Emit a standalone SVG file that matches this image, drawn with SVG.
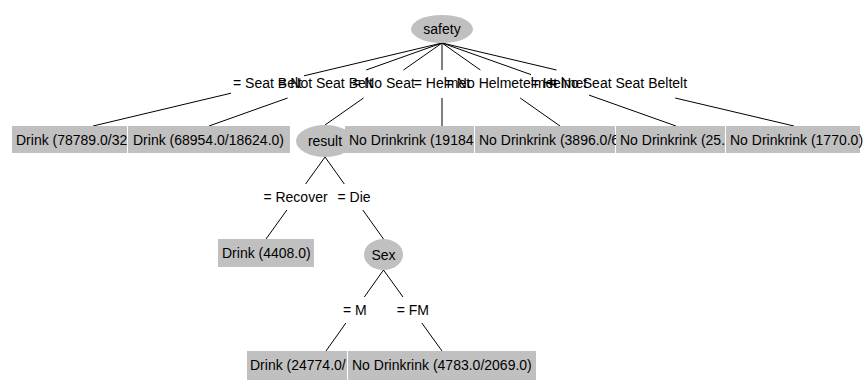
<svg xmlns="http://www.w3.org/2000/svg" width="867" height="384" viewBox="0 0 867 384">
<style>
  text { font-family: "Liberation Sans", Arial, sans-serif; font-size: 14px; fill: #000; }
  .node { fill: #c0c0c0; }
  .edges line { stroke: #000; stroke-width: 1; }
  .lbl { text-anchor: middle; }
  .mid { text-anchor: middle; }
</style>
<rect width="867" height="384" fill="#fff"/>
<g id="connectors" class="edges">
  <line x1="442" y1="43" x2="304" y2="75.8"/><line x1="231" y1="93.2" x2="93" y2="126"/>
  <line x1="442" y1="43" x2="366.2" y2="70"/><line x1="287.6" y1="98" x2="209" y2="126"/>
  <line x1="442" y1="43" x2="403.5" y2="70"/><line x1="363.5" y1="98" x2="325" y2="125"/>
  <line x1="442" y1="43" x2="442" y2="70"/><line x1="442" y1="98" x2="442" y2="126"/>
  <line x1="442" y1="43" x2="480.4" y2="70"/><line x1="520.2" y1="98" x2="560" y2="126"/>
  <line x1="442" y1="43" x2="531" y2="74.6"/><line x1="589" y1="95.1" x2="676" y2="126"/>
  <line x1="442" y1="43" x2="556.5" y2="70"/><line x1="675.2" y1="98" x2="794" y2="126"/>
  <line x1="325" y1="157" x2="305.6" y2="184"/><line x1="286.9" y1="210" x2="266" y2="239"/>
  <line x1="325" y1="157" x2="344.3" y2="184"/><line x1="362.8" y1="210" x2="383.5" y2="239"/>
  <line x1="383.5" y1="270" x2="364.3" y2="297"/><line x1="345.9" y1="323" x2="326" y2="351"/>
  <line x1="383.5" y1="270" x2="403" y2="297"/><line x1="421.8" y1="323" x2="442" y2="351"/>
  <g id="edge-labels">
    <text class="lbl" x="267.5" y="88">= Seat Belt</text>
    <text class="lbl" x="325.5" y="88">= Not Seat Belt</text>
    <text class="lbl" x="383.5" y="88">= No Seat</text>
    <text class="lbl" x="442" y="88">= Helmet</text>
    <text class="lbl" x="501" y="88">= No Helmetelmet</text>
    <text class="lbl" x="559" y="88">= Helmet</text>
    <text class="lbl" x="618" y="88">= No Seat Seat Beltelt</text>
    <text class="lbl" x="295.5" y="202">= Recover</text>
    <text class="lbl" x="354" y="202">= Die</text>
    <text class="lbl" x="354.8" y="315">= M</text>
    <text class="lbl" x="412.8" y="315">= FM</text>
  </g>
</g>
<g id="node-safety"><ellipse class="node" cx="442" cy="29" rx="31" ry="14"/><text class="mid" x="442" y="34">safety</text></g>
<g id="node-leaf1"><rect class="node" x="12" y="126" width="115" height="27"/><text x="16" y="145">Drink (78789.0/32</text></g>
<g id="node-leaf2"><rect class="node" x="128" y="126" width="162" height="27"/><text x="133" y="145">Drink (68954.0/18624.0)</text></g>
<g id="node-result"><ellipse class="node" cx="325" cy="141" rx="29" ry="16"/><text class="mid" x="325" y="146">result</text></g>
<g id="node-leaf4"><rect class="node" x="345" y="126" width="129" height="27"/><text x="349" y="145">No Drinkrink (19184</text></g>
<g id="node-leaf5"><rect class="node" x="475" y="126" width="140" height="27"/><text x="479" y="145">No Drinkrink (3896.0/6</text></g>
<g id="node-leaf6"><rect class="node" x="616" y="126" width="109" height="27"/><text x="620" y="145">No Drinkrink (25.</text></g>
<g id="node-leaf7"><rect class="node" x="726" y="126" width="134" height="27"/><text x="730" y="145">No Drinkrink (1770.0)</text></g>
<g id="node-recover"><rect class="node" x="218" y="239" width="96" height="28"/><text x="222" y="258">Drink (4408.0)</text></g>
<g id="node-sex"><ellipse class="node" cx="383.5" cy="254.5" rx="19.5" ry="15.5"/><text class="mid" x="383.5" y="260">Sex</text></g>
<g id="node-m"><rect class="node" x="247" y="351" width="100" height="29"/><text x="250" y="370">Drink (24774.0/</text></g>
<g id="node-fm"><rect class="node" x="348" y="351" width="188" height="29"/><text x="352" y="370">No Drinkrink (4783.0/2069.0)</text></g>
</svg>
